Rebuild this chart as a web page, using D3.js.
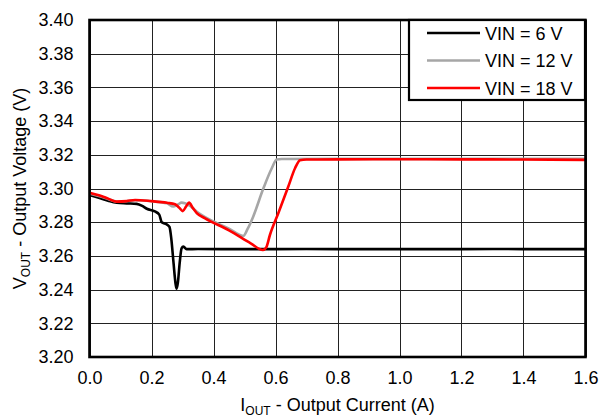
<!DOCTYPE html>
<html><head><meta charset="utf-8">
<script src="https://cdn.jsdelivr.net/npm/d3@7"></script>
<style>body{margin:0;background:#fff}svg{display:block}text{font-family:"Liberation Sans",Arial,sans-serif;fill:#000}</style>
</head><body><svg id="c" width="600" height="417"></svg>
<script>
const xTicks = [0,0.2,0.4,0.6,0.8,1.0,1.2,1.4,1.6];
const yTicks = [3.20,3.22,3.24,3.26,3.28,3.30,3.32,3.34,3.36,3.38,3.40];
const seriesNames = ["VIN = 6 V","VIN = 12 V","VIN = 18 V"];
const seriesColors = ["#000000","#a6a6a6","#ff0000"];

const x6 = [0,0.03,0.06,0.088,0.12,0.152,0.17,0.185,0.211,0.225,0.233,0.249,0.258,0.264,0.271,0.278,0.281,0.285,0.291,0.297,0.303,0.313,0.35,0.5,0.7,0.9,1.1,1.3,1.5,1.6];
const v6 = [3.2961,3.2945,3.2928,3.2916,3.2912,3.2909,3.2897,3.2880,3.2864,3.2845,3.2800,3.2787,3.2772,3.2700,3.2560,3.2430,3.2405,3.2440,3.2560,3.2645,3.2655,3.2640,3.2641,3.2640,3.2641,3.2640,3.2640,3.2641,3.2640,3.2640];

const x12 = [0,0.03,0.06,0.088,0.12,0.147,0.2,0.25,0.27,0.285,0.297,0.308,0.319,0.333,0.346,0.373,0.45,0.496,0.51,0.528,0.561,0.588,0.604,0.62,0.8,1.0,1.2,1.4,1.6];
const v12 = [3.2970,3.2955,3.2938,3.2922,3.2924,3.2930,3.2924,3.2912,3.2893,3.2905,3.2916,3.2912,3.2903,3.2885,3.2862,3.2830,3.2762,3.2718,3.2760,3.2833,3.3001,3.3120,3.3172,3.3175,3.3176,3.3176,3.3176,3.3176,3.3176];

const x18 = [0,0.03,0.06,0.088,0.12,0.147,0.2,0.25,0.276,0.290,0.301,0.312,0.321,0.333,0.346,0.373,0.45,0.52,0.559,0.57,0.582,0.609,0.641,0.663,0.679,0.7,0.8,1.0,1.2,1.4,1.6];
const v18 = [3.2975,3.2960,3.2940,3.2922,3.2925,3.2932,3.2925,3.2915,3.2906,3.2885,3.2866,3.2895,3.2916,3.2885,3.2854,3.2823,3.2752,3.2675,3.2635,3.2650,3.2724,3.2853,3.3010,3.3120,3.3168,3.3172,3.3173,3.3174,3.3173,3.3172,3.3170];

const series = [
  {name:seriesNames[0], color:seriesColors[0], xs:x6, vs:v6},
  {name:seriesNames[1], color:seriesColors[1], xs:x12, vs:v12},
  {name:seriesNames[2], color:seriesColors[2], xs:x18, vs:v18}
];

const L=89.5, R=585.5, T=20, B=357;
const svg = d3.select("#c");
const x = d3.scaleLinear().domain([0,1.6]).range([L,R]);
const y = d3.scaleLinear().domain([3.20,3.40]).range([B,T]);

// grid
const g = svg.append("g");
g.selectAll("line.vx").data(xTicks).join("line")
  .attr("x1",d=>Math.round(x(d))+0.5).attr("x2",d=>Math.round(x(d))+0.5)
  .attr("y1",T).attr("y2",B).attr("stroke","#222").attr("stroke-width",1);
g.selectAll("line.hy").data(yTicks).join("line")
  .attr("y1",d=>Math.round(y(d))+0.5).attr("y2",d=>Math.round(y(d))+0.5)
  .attr("x1",L).attr("x2",R).attr("stroke","#222").attr("stroke-width",1);

// axes tick labels via d3 axes
const xAxis = d3.axisBottom(x).tickValues(xTicks).tickFormat(d3.format(".1f")).tickSize(0).tickPadding(14);
const yAxis = d3.axisLeft(y).tickValues(yTicks).tickFormat(d3.format(".2f")).tickSize(0).tickPadding(16);
const gx = svg.append("g").attr("transform",`translate(0,${B})`).call(xAxis);
const gy = svg.append("g").attr("transform",`translate(${L},0)`).call(yAxis);
[gx,gy].forEach(a=>{a.select(".domain").remove();a.selectAll("text").style("font-size","18px").style("font-family","'Liberation Sans',Arial,sans-serif").attr("fill","#000");});

// lines
const line = d3.line().x(d=>x(d[0])).y(d=>y(d[1])).curve(d3.curveMonotoneX);
svg.append("g").selectAll("path").data(series).join("path")
  .attr("d",s=>line(s.xs.map((v,i)=>[v,s.vs[i]])))
  .attr("fill","none").attr("stroke",s=>s.color).attr("stroke-width",2.6)
  .attr("stroke-linejoin","round");

// frame
svg.append("rect").attr("x",L).attr("y",T).attr("width",R-L).attr("height",B-T)
  .attr("fill","none").attr("stroke","#000").attr("stroke-width",2.6);

// legend
const lg = svg.append("g");
lg.append("rect").attr("x",409).attr("y",20).attr("width",176).attr("height",80)
  .attr("fill","#fff").attr("stroke","#000").attr("stroke-width",2.2);
series.forEach((s,i)=>{
  const yy = 33 + i*27.5;
  lg.append("line").attr("x1",427).attr("x2",480).attr("y1",yy).attr("y2",yy)
    .attr("stroke",s.color).attr("stroke-width",2.6);
  lg.append("text").attr("x",485).attr("y",yy+6.5).style("font-size","18px").text(s.name);
});

// axis titles
const xt = svg.append("text").attr("x",(L+R)/2).attr("y",411).attr("text-anchor","middle").style("font-size","18px");
xt.append("tspan").text("I");
xt.append("tspan").attr("dy",3.5).style("font-size","12px").text("OUT");
xt.append("tspan").attr("dy",-3.5).text(" - Output Current (A)");

const yt = svg.append("text").attr("transform",`translate(26,${(T+B)/2}) rotate(-90)`).attr("text-anchor","middle").style("font-size","18px");
yt.append("tspan").text("V");
yt.append("tspan").attr("dy",4).style("font-size","12px").text("OUT");
yt.append("tspan").attr("dy",-4).text(" - Output Voltage (V)");
</script></body></html>
